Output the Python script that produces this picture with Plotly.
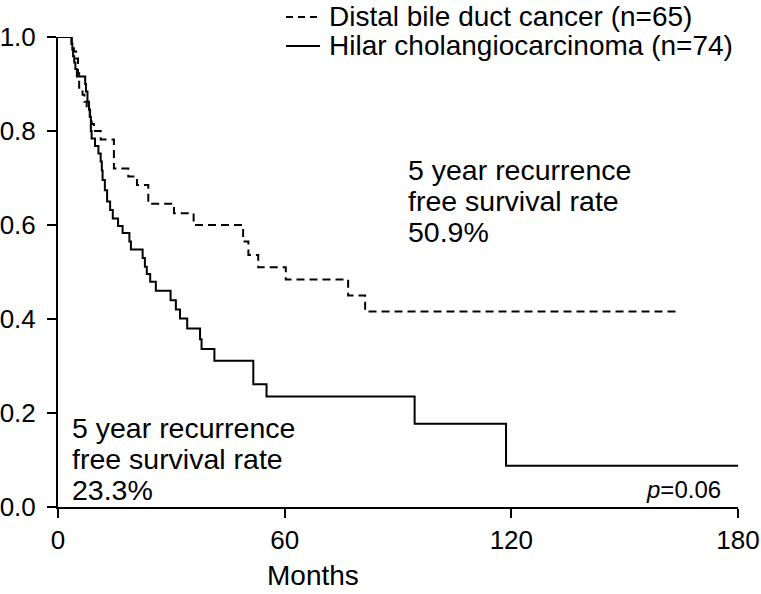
import plotly.graph_objects as go

# Kaplan-Meier step data (months, survival)
months_distal = [0, 3.6, 4.2, 4.8, 5.3, 5.6, 6.5, 7.0, 7.6, 8.4, 8.9, 9.5, 11.3, 14.8,
                 18.6, 20.9, 23.9, 30.7, 35.9, 49.0, 50.4, 53.0, 60.3, 76.8, 81.3, 164.0]
surv_distal = [1.0, 0.985, 0.969, 0.954, 0.923, 0.892, 0.877, 0.862, 0.846, 0.831, 0.815,
               0.80, 0.782, 0.72, 0.703, 0.685, 0.645, 0.625, 0.60, 0.565, 0.536, 0.51,
               0.484, 0.45, 0.416, 0.416]

months_hilar = [0, 3.6, 3.8, 4.0, 4.3, 4.6, 5.0, 7.2, 7.4, 7.8, 8.2, 8.5, 8.7, 8.9, 9.8,
                10.7, 11.3, 11.6, 11.8, 12.4, 13.0, 13.8, 14.5, 15.9, 17.1, 18.9, 19.3,
                22.4, 23.0, 23.5, 24.4, 25.9, 29.8, 31.2, 32.3, 34.2, 37.6, 38.0, 41.4,
                51.7, 55.2, 94.4, 118.6, 180.0]
surv_hilar = [1.0, 0.986, 0.973, 0.959, 0.946, 0.932, 0.916, 0.90, 0.884, 0.862, 0.845,
              0.83, 0.80, 0.784, 0.768, 0.752, 0.735, 0.716, 0.696, 0.674, 0.65, 0.632,
              0.614, 0.598, 0.583, 0.565, 0.548, 0.53, 0.511, 0.496, 0.479, 0.46, 0.44,
              0.42, 0.401, 0.38, 0.357, 0.336, 0.311, 0.261, 0.235, 0.177, 0.088, 0.088]

series_names = ["Distal bile duct cancer (n=65)", "Hilar cholangiocarcinoma (n=74)"]
x_ticks = [0, 60, 120, 180]
y_ticks = [0.0, 0.2, 0.4, 0.6, 0.8, 1.0]
annot_distal = ["5 year recurrence", "free survival rate", "50.9%"]
annot_hilar = ["5 year recurrence", "free survival rate", "23.3%"]
p_text = "<i>p</i>=0.06"
x_title = "Months"

FONT = "Liberation Sans, Arial, Helvetica, sans-serif"
FS = 28
ANN_FS = 28.5
TICK_FS = 26

fig = go.Figure()
fig.add_trace(go.Scatter(
    x=months_distal, y=surv_distal, mode="lines", line_shape="hv",
    line=dict(color="black", width=2, dash="8px,5px"),
    name=series_names[0], cliponaxis=False, showlegend=False, hoverinfo="skip"))
fig.add_trace(go.Scatter(
    x=months_hilar, y=surv_hilar, mode="lines", line_shape="hv",
    line=dict(color="black", width=2),
    name=series_names[1], cliponaxis=False, showlegend=False, hoverinfo="skip"))

# paper coords: plot area x 58..738 px, y 37..507 px
def px_x(p):
    return (p - 58) / 680.0

def px_y(p):
    return (507 - p) / 470.0

def txt(xp, yp, t, size=FS, xanchor="left"):
    fig.add_annotation(x=px_x(xp), y=px_y(yp), xref="paper", yref="paper",
                       text=t, showarrow=False, xanchor=xanchor, yanchor="middle",
                       font=dict(family=FONT, size=size, color="black"))

# legend (drawn manually for exact row spacing)
legend_rows = [17, 46]
legend_dash = ["7px,5px", "solid"]
for i, name in enumerate(series_names):
    yy = px_y(legend_rows[i])
    fig.add_shape(type="line", xref="paper", yref="paper",
                  x0=px_x(286), x1=px_x(320), y0=yy, y1=yy,
                  line=dict(color="black", width=2, dash=legend_dash[i]))
    txt(327, legend_rows[i], name)

for i, t in enumerate(annot_distal):
    txt(406, 170 + 31 * i, t, size=ANN_FS)
for i, t in enumerate(annot_hilar):
    txt(70, 428 + 31 * i, t, size=ANN_FS)
txt(723, 489, p_text, size=24, xanchor="right")
txt(313, 575, x_title, xanchor="center")

fig.update_layout(
    width=761, height=594,
    margin=dict(l=58, r=23, t=37, b=87, autoexpand=False),
    paper_bgcolor="white", plot_bgcolor="white",
    font=dict(family=FONT, size=FS, color="black"),
    showlegend=False, hovermode=False,
)
fig.update_xaxes(
    range=[0, 180], tickvals=x_ticks, ticktext=[str(v) for v in x_ticks],
    showline=True, linecolor="black", linewidth=2, mirror=False,
    ticks="outside", ticklen=9, tickwidth=2, tickcolor="black",
    showgrid=False, zeroline=False, automargin=False,
    tickfont=dict(family=FONT, size=TICK_FS))
fig.update_yaxes(
    range=[0, 1], tickvals=y_ticks, ticktext=[f"{v:.1f}" for v in y_ticks],
    showline=True, linecolor="black", linewidth=2, mirror=False,
    ticks="outside", ticklen=9, tickwidth=2, tickcolor="black",
    showgrid=False, zeroline=False, automargin=False, ticklabelstandoff=6,
    tickfont=dict(family=FONT, size=TICK_FS))

fig.write_html("out.html",
               config={"displayModeBar": False, "staticPlot": True},
               post_script="document.body.style.margin='0px';"
                           "document.body.style.overflow='hidden';")
